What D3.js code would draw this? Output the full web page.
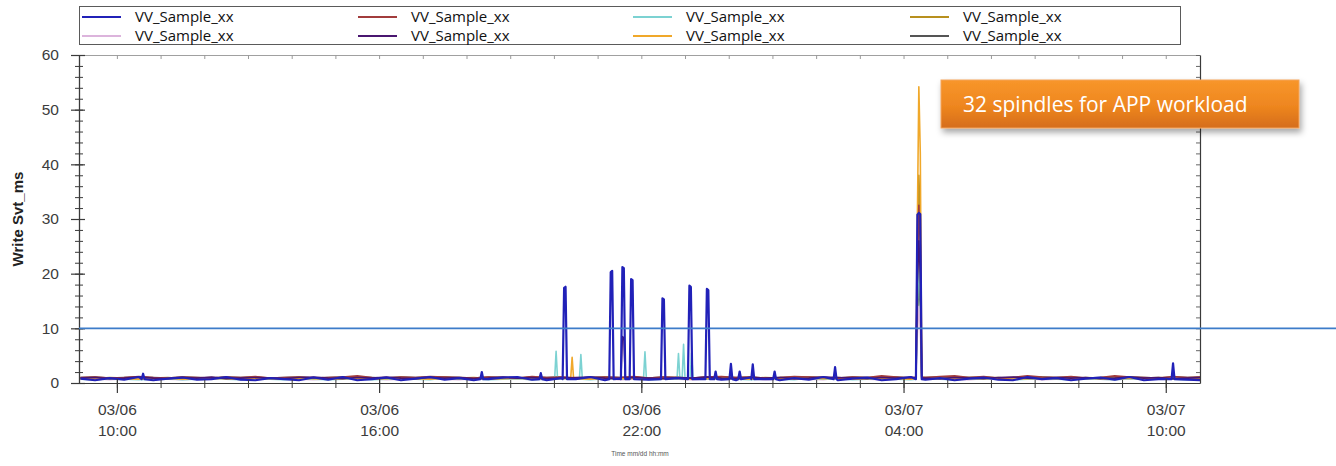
<!DOCTYPE html>
<html>
<head>
<meta charset="utf-8">
<script src="https://cdn.jsdelivr.net/npm/d3@7"></script>
<style>
  html, body { margin: 0; padding: 0; background: #fff; }
  svg { display: block; }
</style>
</head>
<body>
<svg id="chart" width="1336" height="466"></svg>
<script>
// ---- data -------------------------------------------------------------
const seriesNames = ["VV_Sample_xx", "VV_Sample_xx", "VV_Sample_xx", "VV_Sample_xx",
                     "VV_Sample_xx", "VV_Sample_xx", "VV_Sample_xx", "VV_Sample_xx"];
const seriesColors = ["#2121b8", "#dcb4dc", "#a23c3c", "#4a1670",
                      "#7cd2d2", "#f0a82a", "#b8901e", "#555555"];

// baseline samples, every 20 minutes from 03/06 09:10
const baselineStart = "03/06 09:10";
const baselineStepMin = 20;
const baseBlue = [0.8,0.5,0.9,0.6,1.1,0.5,0.8,1.0,0.6,0.7,1.1,0.6,0.5,0.9,0.7,0.5,1.0,0.6,1.1,0.5,
  0.7,1.0,0.5,0.8,1.1,0.6,0.9,0.5,0.7,1.0,1.1,0.6,0.5,0.9,0.7,1.1,0.5,0.8,1.0,0.6,
  0.5,0.9,0.7,1.1,0.6,0.5,1.0,0.7,0.5,0.9,0.6,1.1,0.5,0.8,1.0,0.5,0.7,1.1,0.6,0.9,
  0.5,0.8,1.0,0.6,0.5,1.1,0.7,0.9,0.5,0.8,1.0,0.6,1.1,0.5,0.7,0.9,0.6,0.5];
const basePink = [0.7,0.8,0.6,0.8,0.7,0.9,0.7,0.6,0.8,0.7,0.8,0.6,0.9,0.7,0.8,0.7,0.6,0.8,0.9,0.7,
  0.8,0.6,0.7,0.9,0.8,0.7,0.6,0.8,0.7,0.9,0.8,0.6,0.7,0.8,0.9,0.7,0.8,0.6,0.7,0.8,
  0.9,0.7,0.6,0.8,0.7,0.8,0.9,0.6,0.7,0.8,0.7,0.6,0.9,0.8,0.7,0.6,0.8,0.7,0.9,0.8,
  0.7,0.6,0.8,0.9,0.7,0.8,0.6,0.7,0.8,0.9,0.7,0.6,0.8,0.7,0.8,0.9,0.7,0.8];
const baseRed = [1.0,1.1,0.9,1.0,1.2,1.0,0.9,1.1,1.0,0.9,1.1,1.0,1.2,0.9,1.0,1.1,0.9,1.0,1.1,1.3,
  1.0,0.9,1.1,1.0,1.2,1.1,1.0,0.9,1.1,1.0,0.9,1.2,1.0,1.1,0.9,1.0,1.1,1.0,1.2,0.9,
  1.1,1.0,0.9,1.1,1.2,1.0,1.1,0.9,1.0,1.2,1.1,1.0,0.9,1.1,1.0,1.3,1.1,0.9,1.0,1.2,
  1.3,1.0,1.2,0.9,1.0,1.3,1.1,1.0,1.2,0.9,1.0,1.3,1.1,1.0,0.9,1.2,1.0,1.1];
const basePurple = [0.9,1.0,0.8,0.9,1.1,0.9,0.8,1.0,0.9,1.1,0.8,0.9,1.0,0.9,0.8,1.0,1.1,0.9,0.8,1.0,
  0.9,1.1,0.9,0.8,1.0,0.9,1.0,0.8,0.9,1.1,0.9,1.0,0.8,0.9,1.0,1.1,0.9,0.8,1.0,0.9,
  0.8,1.0,0.9,1.1,0.9,0.8,1.0,0.9,1.0,0.8,0.9,1.1,1.0,0.9,0.8,1.0,0.9,1.1,0.9,0.8,
  1.0,0.9,0.8,1.0,1.1,0.9,0.8,1.0,0.9,1.0,0.8,0.9,1.1,0.9,1.0,0.8,0.9,1.0];
const baseCyan = [0.7,0.6,0.8,0.7,0.6,0.7,0.8,0.6,0.7,0.9,0.7,0.6,0.8,0.7,0.6,0.8,0.7,0.6,0.7,0.8,
  0.6,0.7,0.8,0.7,0.6,0.9,0.7,0.8,0.6,0.7,0.8,0.6,0.7,0.8,0.7,0.6,0.8,0.7,0.9,0.6,
  0.7,0.8,0.6,0.7,0.8,0.7,0.6,0.8,0.7,0.6,0.9,0.7,0.8,0.6,0.7,0.8,0.7,0.6,0.8,0.7,
  0.6,0.8,0.7,0.9,0.6,0.7,0.8,0.7,0.6,0.8,0.7,0.6,0.8,0.7,0.9,0.7,0.6,0.8];
const baseOrange = [0.8,0.7,0.9,0.8,0.7,0.8,0.9,0.7,0.8,0.9,0.8,0.7,0.9,0.8,0.7,0.9,0.8,0.7,0.8,0.9,
  0.7,0.8,0.9,0.8,0.7,0.9,0.8,0.9,0.7,0.8,0.9,0.7,0.8,0.9,0.8,0.7,0.9,0.8,0.9,0.7,
  0.8,0.9,0.7,0.8,0.9,0.8,0.7,0.9,0.8,0.7,0.9,0.8,0.9,0.7,0.8,0.9,0.8,0.7,0.9,0.8,
  0.7,0.9,0.8,0.9,0.7,0.8,0.9,0.8,0.7,0.9,0.8,0.7,0.9,0.8,0.9,0.8,0.7,0.9];
const baseOlive = [0.9,0.8,1.0,0.9,0.8,0.9,1.0,0.8,0.9,1.0,0.9,0.8,1.0,0.9,0.8,1.0,0.9,0.8,0.9,1.0,
  0.8,0.9,1.0,0.9,0.8,1.0,0.9,1.0,0.8,0.9,1.0,0.8,0.9,1.0,0.9,0.8,1.0,0.9,1.0,0.8,
  0.9,1.0,0.8,0.9,1.0,0.9,0.8,1.0,0.9,0.8,1.0,0.9,1.0,0.8,0.9,1.0,0.9,0.8,1.0,0.9,
  0.8,1.0,0.9,1.0,0.8,0.9,1.0,0.9,0.8,1.0,0.9,0.8,1.0,0.9,1.0,0.9,0.8,1.0];
const baseGray = [1.0,1.1,0.9,1.0,1.1,1.0,0.9,1.1,1.0,0.9,1.1,1.0,1.1,0.9,1.0,1.1,0.9,1.0,1.1,1.1,
  1.0,0.9,1.1,1.0,1.1,1.1,1.0,0.9,1.1,1.0,0.9,1.1,1.0,1.1,0.9,1.0,1.1,1.0,1.1,0.9,
  1.1,1.0,0.9,1.1,1.1,1.0,1.1,0.9,1.0,1.1,1.1,1.0,0.9,1.1,1.0,1.1,1.1,0.9,1.0,1.1,
  1.1,1.0,1.1,0.9,1.0,1.1,1.1,1.0,1.1,0.9,1.0,1.1,1.1,1.0,0.9,1.1,1.0,1.1];
const baselines = [baseBlue, basePink, baseRed, basePurple, baseCyan, baseOrange, baseOlive, baseGray];

// bursts: [series index, first sample time, samples every 2 minutes]
const burstStepMin = 2;
const bursts = [
  [0, "03/06 10:34", [0.7, 1.7, 0.7]],
  [0, "03/06 18:19", [0.7, 2.0, 0.7]],
  [0, "03/06 19:40", [0.7, 1.8, 0.7]],
  [0, "03/06 20:12", [0.7, 17.4, 17.6, 0.7]],
  [0, "03/06 21:16", [0.7, 20.3, 20.5, 0.7]],
  [0, "03/06 21:32", [0.7, 21.2, 21.0, 0.7]],
  [0, "03/06 21:44", [0.7, 19.0, 18.8, 0.7]],
  [0, "03/06 22:27", [0.7, 15.5, 15.3, 0.7]],
  [0, "03/06 23:04", [0.7, 17.8, 17.6, 0.7]],
  [0, "03/06 23:28", [0.7, 17.2, 17.0, 0.7]],
  [0, "03/06 23:40", [0.7, 2.1, 0.7]],
  [0, "03/07 00:01", [0.7, 3.5, 0.7]],
  [0, "03/07 00:13", [0.7, 2.1, 0.7]],
  [0, "03/07 00:31", [0.7, 3.4, 0.7]],
  [0, "03/07 01:01", [0.7, 2.1, 0.7]],
  [0, "03/07 02:24", [0.7, 2.9, 0.7]],
  [0, "03/07 04:17", [0.7, 30.8, 31.1, 30.9, 0.7]],
  [0, "03/07 10:08", [0.7, 3.6, 0.7]],
  [1, "03/07 04:17", [0.8, 9.0, 14.0, 10.0, 0.8]],
  [2, "03/07 04:17", [1.1, 20.0, 32.5, 25.0, 1.1]],
  [3, "03/06 21:32", [0.9, 8.5, 8.3, 0.9]],
  [3, "03/07 04:17", [0.9, 18.0, 26.0, 20.0, 0.9]],
  [4, "03/06 20:01", [0.7, 5.8, 0.7]],
  [4, "03/06 20:35", [0.7, 5.2, 0.7]],
  [4, "03/06 22:03", [0.7, 5.7, 0.7]],
  [4, "03/06 22:49", [0.7, 5.4, 0.7]],
  [4, "03/06 22:56", [0.7, 7.1, 0.7]],
  [4, "03/06 23:07", [0.7, 5.5, 0.7]],
  [4, "03/07 04:17", [0.7, 14.0, 22.0, 16.0, 0.7]],
  [5, "03/06 20:23", [0.8, 4.7, 0.8]],
  [5, "03/07 04:17", [0.8, 30.0, 54.2, 42.0, 0.8]],
  [6, "03/07 04:17", [0.9, 22.0, 38.0, 30.0, 0.9]],
  [7, "03/07 04:17", [1.0, 12.0, 18.0, 14.0, 1.0]]
];

const xDomain = ["03/06 09:08", "03/07 10:47"];
const xMajorTicks = ["03/06 10:00", "03/06 16:00", "03/06 22:00", "03/07 04:00", "03/07 10:00"];
const yMajorTicks = [0, 10, 20, 30, 40, 50, 60];
const thresholdValue = 10;
const calloutText = "32 spindles for APP workload";
const yTitle = "Write Svt_ms";
const xTitle = "Time mm/dd hh:mm";

// ---- layout -----------------------------------------------------------
const W = 1336, H = 466;
const plot = { left: 79, right: 1200, top: 55, bottom: 383 };
const parse = d3.timeParse("%m/%d %H:%M");
const svg = d3.select("#chart");

const x = d3.scaleTime().domain(xDomain.map(parse)).range([plot.left, plot.right]);
const y = d3.scaleLinear().domain([0, 60]).range([plot.bottom, plot.top]);

// assemble each series: baseline samples outside bursts + burst samples
const t0 = parse(baselineStart);
const seriesData = baselines.map((vals, si) => {
  const groups = bursts.filter(b => b[0] === si).map(b => {
    const start = parse(b[1]);
    return b[2].map((v, k) => ({ t: d3.timeMinute.offset(start, k * burstStepMin), v }));
  });
  const base = vals.map((v, i) => ({ t: d3.timeMinute.offset(t0, i * baselineStepMin), v }))
    .filter(p => !groups.some(g => p.t >= g[0].t && p.t <= g[g.length - 1].t));
  return base.concat(...groups).sort((a, b) => a.t - b.t);
});

const defs = svg.append("defs");
defs.append("clipPath").attr("id", "plotClip")
  .append("rect")
  .attr("x", plot.left).attr("y", plot.top)
  .attr("width", plot.right - plot.left).attr("height", plot.bottom - plot.top);

const grad = defs.append("linearGradient").attr("id", "calloutGrad")
  .attr("x1", 0).attr("y1", 0).attr("x2", 0).attr("y2", 1);
grad.append("stop").attr("offset", "0%").attr("stop-color", "#f8962a");
grad.append("stop").attr("offset", "55%").attr("stop-color", "#ee861f");
grad.append("stop").attr("offset", "100%").attr("stop-color", "#d56d1c");

const shadow = defs.append("filter").attr("id", "calloutShadow")
  .attr("x", "-10%").attr("y", "-30%").attr("width", "125%").attr("height", "180%");
shadow.append("feDropShadow").attr("dx", 2).attr("dy", 4).attr("stdDeviation", 3)
  .attr("flood-color", "#000").attr("flood-opacity", 0.35);

// ---- series lines -----------------------------------------------------
const line = d3.line().x(d => x(d.t)).y(d => y(d.v));
const drawOrder = [7, 6, 1, 4, 5, 2, 3, 0];
const gLines = svg.append("g").attr("clip-path", "url(#plotClip)");
drawOrder.forEach(si => {
  gLines.append("path")
    .datum(seriesData[si])
    .attr("fill", "none")
    .attr("stroke", seriesColors[si])
    .attr("stroke-width", si === 0 ? 2.2 : 1.6)
    .attr("stroke-linejoin", "round")
    .attr("d", line);
});

// ---- axes ---------------------------------------------------------------
const axisColor = "#3a3a3a";
const labelFont = "'Liberation Sans', Arial, sans-serif";

// top frame line with hourly ticks
const hourTicks = d3.timeHour.every(1).range(x.domain()[0], x.domain()[1]);
const gTop = svg.append("g").attr("transform", `translate(0,${plot.top})`)
  .call(d3.axisTop(x).tickValues(hourTicks).tickSize(0).tickSizeOuter(0).tickFormat(""));
gTop.select(".domain").attr("stroke", "#a0a0a0").attr("stroke-width", 1.2);
gTop.selectAll(".tick line").attr("y1", 0).attr("y2", 4).attr("stroke", "#9a9a9a");

// right frame line with minor ticks pointing inward
const yMinor = d3.range(0, 61, 2);
const gRight = svg.append("g").attr("transform", `translate(${plot.right},0)`)
  .call(d3.axisRight(y).tickValues(yMinor).tickSize(0).tickSizeOuter(0).tickFormat(""));
gRight.select(".domain").attr("stroke", axisColor).attr("stroke-width", 1.2);
gRight.selectAll(".tick line").attr("x1", -4).attr("x2", 0).attr("stroke", "#666");

// left axis: minor ticks then labelled major ticks
const gLeftMinor = svg.append("g").attr("transform", `translate(${plot.left},0)`)
  .call(d3.axisLeft(y).tickValues(yMinor).tickSize(4).tickSizeOuter(0).tickFormat(""));
gLeftMinor.select(".domain").attr("stroke", axisColor).attr("stroke-width", 1.3);
gLeftMinor.selectAll(".tick line").attr("x1", 4).attr("stroke", axisColor);

const gLeft = svg.append("g").attr("transform", `translate(${plot.left},0)`)
  .call(d3.axisLeft(y).tickValues(yMajorTicks).tickSize(8).tickSizeOuter(0).tickPadding(12));
gLeft.select(".domain").remove();
gLeft.selectAll(".tick line").attr("x1", 6).attr("stroke", axisColor).attr("stroke-width", 1.2);
gLeft.selectAll(".tick text")
  .attr("font-family", labelFont).attr("font-size", 15.5).attr("fill", "#3c3c3c");

// bottom axis: hourly minor ticks, six-hourly labelled ticks
const gBottomMinor = svg.append("g").attr("transform", `translate(0,${plot.bottom})`)
  .call(d3.axisBottom(x).tickValues(hourTicks).tickSize(5).tickSizeOuter(0).tickFormat(""));
gBottomMinor.select(".domain").attr("stroke", axisColor).attr("stroke-width", 1.2);
gBottomMinor.selectAll(".tick line").attr("y1", -3).attr("stroke", axisColor);

const fmtDay = d3.timeFormat("%m/%d"), fmtTime = d3.timeFormat("%H:%M");
const gBottom = svg.append("g").attr("transform", `translate(0,${plot.bottom})`)
  .call(d3.axisBottom(x).tickValues(xMajorTicks.map(parse)).tickSize(10).tickSizeOuter(0).tickFormat(""));
gBottom.select(".domain").remove();
gBottom.selectAll(".tick line").attr("y1", -4).attr("stroke", axisColor).attr("stroke-width", 1.2);
gBottom.selectAll(".tick").each(function(d) {
  const t = d3.select(this).append("text")
    .attr("font-family", labelFont).attr("font-size", 15.5).attr("fill", "#3c3c3c")
    .attr("text-anchor", "middle");
  t.append("tspan").attr("x", 0).attr("y", 32).text(fmtDay(d));
  t.append("tspan").attr("x", 0).attr("y", 53).text(fmtTime(d));
});

// axis titles
svg.append("text")
  .attr("transform", `translate(23,219) rotate(-90)`)
  .attr("text-anchor", "middle")
  .attr("font-family", labelFont).attr("font-size", 15).attr("font-weight", "bold")
  .attr("fill", "#222").text(yTitle);
svg.append("text")
  .attr("x", 640).attr("y", 456).attr("text-anchor", "middle")
  .attr("font-family", labelFont).attr("font-size", 6.5).attr("fill", "#555")
  .text(xTitle);

// threshold line running past the plot to the page edge
svg.append("line")
  .attr("x1", plot.left).attr("x2", W)
  .attr("y1", y(thresholdValue)).attr("y2", y(thresholdValue))
  .attr("stroke", "#3d7cc9").attr("stroke-width", 1.6);

// ---- legend -----------------------------------------------------------
const legendFont = "'Open Sans', 'Noto Sans', sans-serif";
const gLeg = svg.append("g");
gLeg.append("rect")
  .attr("x", 79.5).attr("y", 6.5).attr("width", 1101).attr("height", 38)
  .attr("fill", "#fff").attr("stroke", "#5a5a5a").attr("stroke-width", 1);
const colX = [82, 358, 633, 910];
const rowY = [17, 36];
seriesNames.forEach((name, i) => {
  const cx = colX[Math.floor(i / 2)], cy = rowY[i % 2];
  gLeg.append("line")
    .attr("x1", cx).attr("x2", cx + 39).attr("y1", cy).attr("y2", cy)
    .attr("stroke", seriesColors[i]).attr("stroke-width", 2);
  gLeg.append("text")
    .attr("x", cx + 53).attr("y", cy + 5)
    .attr("font-family", legendFont).attr("font-size", 15).attr("fill", "#111")
    .text(name);
});

// ---- callout ------------------------------------------------------------
const gCall = svg.append("g");
gCall.append("rect")
  .attr("x", 941).attr("y", 80).attr("width", 358).attr("height", 48)
  .attr("fill", "url(#calloutGrad)").attr("stroke", "#f4a45a").attr("stroke-width", 1)
  .attr("filter", "url(#calloutShadow)");
gCall.append("text")
  .attr("x", 963).attr("y", 112)
  .attr("font-family", legendFont).attr("font-size", 21).attr("fill", "#fff")
  .text(calloutText);
</script>
</body>
</html>
